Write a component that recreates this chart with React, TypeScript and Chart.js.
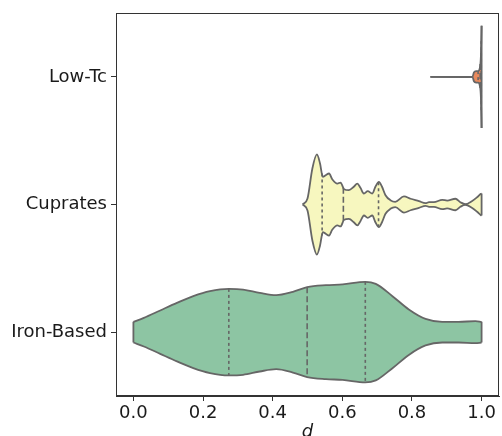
import React, { useEffect, useRef } from 'react';
import { Chart, registerables } from 'chart.js';

Chart.register(...registerables);

const categories = ['Low-Tc', 'Cuprates', 'Iron-Based'];
const xTicks = [0, 0.2, 0.4, 0.6, 0.8, 1.0];

// Low-Tc density profile (half widths in category units)
const lowTcX = [0.853, 0.974, 0.978, 0.984, 0.99, 0.995, 0.998, 1.0];
const lowTcWidth = [0, 0.002, 0.035, 0.045, 0.045, 0.07, 0.16, 0.4];
const lowTcQuartiles = [0.99, 0.996, 0.999];

// Cuprates density profile
const cupratesX = [
  0.486, 0.5, 0.514, 0.527, 0.536, 0.544, 0.552, 0.562, 0.571, 0.586, 0.595, 0.605,
  0.619, 0.633, 0.643, 0.652, 0.662, 0.673, 0.686, 0.695, 0.705, 0.714, 0.724, 0.738,
  0.752, 0.777, 0.796, 0.82, 0.839, 0.849, 0.863, 0.887, 0.901, 0.925, 0.939, 0.953,
  0.972, 0.987, 0.998, 1.0,
];
const cupratesWidth = [
  0, 0.047, 0.282, 0.392, 0.321, 0.217, 0.229, 0.243, 0.198, 0.164, 0.172, 0.12,
  0.112, 0.139, 0.164, 0.131, 0.086, 0.104, 0.086, 0.139, 0.178, 0.139, 0.073, 0.034,
  0.021, 0.063, 0.045, 0.026, 0.01, 0.018, 0.018, 0.037, 0.031, 0.045, 0.018, 0.002,
  0.026, 0.057, 0.084, 0.086,
];
const cupratesQuartiles = [0.542, 0.603, 0.704];

// Iron-Based density profile
const ironX = [
  0, 0.03, 0.077, 0.125, 0.172, 0.22, 0.274, 0.315, 0.363, 0.41, 0.458, 0.499,
  0.553, 0.601, 0.666, 0.696, 0.744, 0.791, 0.839, 0.887, 0.934, 0.982, 1.0,
];
const ironWidth = [
  0.081, 0.112, 0.17, 0.229, 0.282, 0.321, 0.339, 0.334, 0.308, 0.29, 0.316, 0.352,
  0.368, 0.374, 0.394, 0.378, 0.282, 0.178, 0.104, 0.081, 0.081, 0.086, 0.081,
];
const ironQuartiles = [0.274, 0.499, 0.666];

const fillColors = ['#e8895c', '#f7f7bf', '#8dc5a3'];
const LINE = '#666666';
const FONT = 'DejaVu Sans';

function interp(xs: number[], ws: number[], q: number): number {
  if (q <= xs[0]) return ws[0];
  for (let i = 1; i < xs.length; i++) {
    if (q <= xs[i]) {
      const t = (q - xs[i - 1]) / (xs[i] - xs[i - 1]);
      return ws[i - 1] + t * (ws[i] - ws[i - 1]);
    }
  }
  return ws[ws.length - 1];
}

function violinDatasets(center: number, xs: number[], ws: number[], quartiles: number[], color: string) {
  const base: any = {
    borderColor: LINE,
    borderWidth: 1.8,
    pointRadius: 0,
    cubicInterpolationMode: 'monotone',
  };
  const sets: any[] = [
    { ...base, data: xs.map((x, i) => ({ x, y: center - ws[i] })), fill: false },
    { ...base, data: xs.map((x, i) => ({ x, y: center + ws[i] })), fill: '-1', backgroundColor: color },
  ];
  [0, xs.length - 1].forEach((i) => {
    if (ws[i] > 0) {
      sets.push({
        borderColor: LINE,
        borderWidth: 1.8,
        pointRadius: 0,
        fill: false,
        data: [
          { x: xs[i], y: center - ws[i] },
          { x: xs[i], y: center + ws[i] },
        ],
      });
    }
  });
  quartiles.forEach((q, k) => {
    const w = interp(xs, ws, q);
    sets.push({
      borderColor: LINE,
      borderWidth: 1.6,
      borderDash: k === 1 ? [6, 3] : [3, 3],
      pointRadius: 0,
      fill: false,
      data: [
        { x: q, y: center - w },
        { x: q, y: center + w },
      ],
    });
  });
  return sets;
}

const framePlugin = {
  id: 'frame',
  afterDraw(chart: any) {
    const { ctx, chartArea } = chart;
    ctx.save();
    ctx.strokeStyle = '#333333';
    ctx.lineWidth = 1;
    ctx.strokeRect(chartArea.left + 0.5, chartArea.top + 0.5, chartArea.right - chartArea.left - 1, chartArea.bottom - chartArea.top - 1);
    ctx.restore();
  },
};

export default function App() {
  const ref = useRef<HTMLCanvasElement | null>(null);
  useEffect(() => {
    if (!ref.current) return;
    const datasets = [
      ...violinDatasets(0, lowTcX, lowTcWidth, lowTcQuartiles, fillColors[0]),
      ...violinDatasets(1, cupratesX, cupratesWidth, cupratesQuartiles, fillColors[1]),
      ...violinDatasets(2, ironX, ironWidth, ironQuartiles, fillColors[2]),
    ];
    const chart = new Chart(ref.current, {
      type: 'line',
      data: { datasets },
      plugins: [framePlugin],
      options: {
        animation: false,
        responsive: false,
        devicePixelRatio: 1,
        layout: { padding: { top: 13, right: 3, left: 0, bottom: 0 } },
        plugins: {
          legend: { display: false },
          tooltip: { enabled: false },
          filler: { drawTime: 'beforeDatasetsDraw' },
        },
        scales: {
          x: {
            type: 'linear',
            min: -0.05,
            max: 1.05,
            afterBuildTicks: (scale: any) => {
              scale.ticks = xTicks.map((v) => ({ value: v }));
            },
            afterFit: (scale: any) => {
              scale.height = 54;
              scale.paddingLeft = 0;
              scale.paddingRight = 0;
            },
            grid: { drawOnChartArea: false, drawTicks: true, tickLength: 5, color: '#333333' },
            border: { display: true, color: '#333333' },
            ticks: {
              padding: 2,
              color: '#1a1a1a',
              font: { family: FONT, size: 18 },
              maxRotation: 0,
              callback: (v: any) => Number(v).toFixed(1),
            },
            title: {
              display: true,
              text: 'd',
              color: '#1a1a1a',
              font: { family: FONT, size: 18, style: 'italic' },
              padding: { top: 0, bottom: 7 },
            },
          },
          y: {
            type: 'linear',
            reverse: true,
            min: -0.5,
            max: 2.5,
            afterBuildTicks: (scale: any) => {
              scale.ticks = categories.map((_, i) => ({ value: i }));
            },
            afterFit: (scale: any) => {
              scale.width = 116;
              scale.paddingTop = 0;
              scale.paddingBottom = 0;
            },
            grid: { drawOnChartArea: false, drawTicks: true, tickLength: 5, color: '#333333' },
            border: { display: true, color: '#333333' },
            ticks: {
              padding: 4,
              color: '#1a1a1a',
              font: { family: FONT, size: 18 },
              callback: (v: any) => categories[Math.round(Number(v))] ?? '',
            },
          },
        },
      } as any,
    });
    return () => chart.destroy();
  }, []);

  return (
    <div style={{ position: 'fixed', left: 0, top: 0, width: 502, height: 450 }}>
      <canvas ref={ref} width={502} height={450} style={{ display: 'block' }} />
    </div>
  );
}
